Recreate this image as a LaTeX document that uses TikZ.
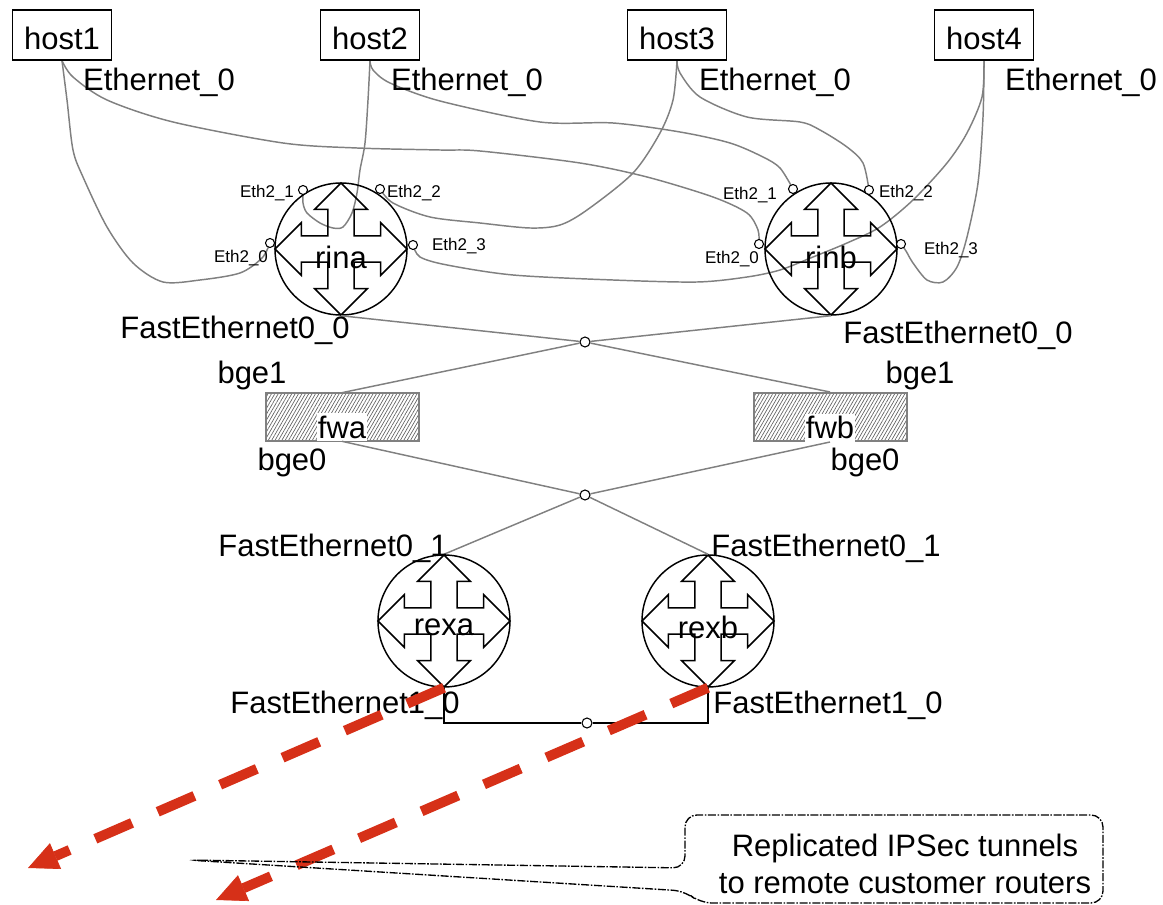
\documentclass[tikz,border=0pt]{standalone}
\usepackage{fontspec}
\setmainfont{Liberation Sans}
\usetikzlibrary{arrows.meta,patterns.meta,backgrounds}
\definecolor{wiregray}{RGB}{128,128,128}
\definecolor{tunnel}{RGB}{214,48,24}
\tikzset{
  bigtext/.style={font=\fontsize{23.25}{27.75}\selectfont, inner sep=0pt},
  smalltext/.style={font=\fontsize{12.75}{15}\selectfont, inner sep=0pt},
  hostbox/.style={draw, line width=1.1pt, minimum width=74.25pt, minimum height=37.5pt, inner sep=0pt, font=\fontsize{23.25}{27.75}\selectfont},
  routernode/.style={circle, draw, line width=1.1pt, minimum size=99pt, inner sep=0pt, font=\fontsize{23.25}{27.75}\selectfont},
  port/.style={circle, draw, fill=white, line width=0.8pt, minimum size=6.75pt, inner sep=0pt},
  hub/.style={circle, draw, fill=white, line width=0.8pt, minimum size=7.5pt, inner sep=0pt},
  wire/.style={draw=wiregray, line width=1.1pt},
  fwbox/.style={draw=wiregray, line width=1.5pt, minimum width=114.75pt, minimum height=36pt, inner sep=0pt,
    pattern={Lines[angle=60,distance=2.2pt,line width=0.5pt]}, pattern color=gray!75!black},
  fwlabel/.style={fill=white, minimum width=37.5pt, minimum height=21pt, inner sep=0pt, anchor=south, font=\fontsize{23.25}{27.75}\selectfont},
  tunnelarrow/.style={draw=tunnel, line width=7.5pt, dash pattern=on 30pt off 21pt,
    -{Triangle[length=22.5pt,width=21pt,line width=0.5pt]}},
  calloutline/.style={draw, line width=1pt, dash pattern=on 6pt off 1.2pt on 1.2pt off 1.2pt, rounded corners=9pt},
  crossarrows/.pic={
    \draw[line width=1.1pt] (0,-66) -- (26.4,-39.6) -- (13.2,-39.6) -- (13.2,-13.2) -- (39.6,-13.2) -- (39.6,-26.4)
      -- (66,0) -- (39.6,26.4) -- (39.6,13.2) -- (13.2,13.2) -- (13.2,39.6) -- (26.4,39.6)
      -- (0,66) -- (-26.4,39.6) -- (-13.2,39.6) -- (-13.2,13.2) -- (-39.6,13.2) -- (-39.6,26.4)
      -- (-66,0) -- (-39.6,-26.4) -- (-39.6,-13.2) -- (-13.2,-13.2) -- (-13.2,-39.6) -- (-26.4,-39.6) -- cycle;
  }
}
\begin{document}
\begin{tikzpicture}[x=0.75pt,y=-0.75pt]
\useasboundingbox (0,0) rectangle (1163,905);

% hosts
\node[hostbox] (h1) at (62,35) {\raisebox{-2.5pt}[\height][0pt]{host1}};
\node[hostbox] (h2) at (370,35) {\raisebox{-2.5pt}[\height][0pt]{host2}};
\node[hostbox] (h3) at (677,35) {\raisebox{-2.5pt}[\height][0pt]{host3}};
\node[hostbox] (h4) at (984,35) {\raisebox{-2.5pt}[\height][0pt]{host4}};
\node[bigtext] (e1) at (159,82) {Ethernet\_0};
\node[bigtext] (e2) at (467,82) {Ethernet\_0};
\node[bigtext] (e3) at (775,82) {Ethernet\_0};
\node[bigtext] (e4) at (1081,82) {Ethernet\_0};

% inner routers
\node[routernode] (rina) at (341,249) {\raisebox{-6.5pt}[\height][0pt]{rina}};
\pic at (rina) {crossarrows};
\node[routernode] (rinb) at (831,249) {\raisebox{-6.5pt}[\height][0pt]{rinb}};
\pic at (rinb) {crossarrows};

% ports
\node[port] (ra0) at (270,243) {};
\node[port] (ra1) at (303,190) {};
\node[port] (ra2) at (380,189) {};
\node[port] (ra3) at (413,245) {};
\node[port] (rb0) at (759,244) {};
\node[port] (rb1) at (793,189) {};
\node[port] (rb2) at (869,190) {};
\node[port] (rb3) at (901,244) {};
\node[smalltext] (la0) at (241,258) {Eth2\_0};
\node[smalltext] (la1) at (267,193) {Eth2\_1};
\node[smalltext] (la2) at (414,193) {Eth2\_2};
\node[smalltext] (la3) at (459,246) {Eth2\_3};
\node[smalltext] (lb0) at (732,259) {Eth2\_0};
\node[smalltext] (lb1) at (750,195) {Eth2\_1};
\node[smalltext] (lb2) at (906,193) {Eth2\_2};
\node[smalltext] (lb3) at (951,250) {Eth2\_3};

% host wires
\begin{scope}[on background layer]
\draw[wire] plot[smooth,tension=0.5] coordinates {(h1.south) (67,100) (73,150) (83,177) (107,227) (133,263) (163,282) (200,280) (240,273) (262,258) (ra0.center)};
\draw[wire] plot[smooth,tension=0.5] coordinates {(h1.south) (73,77) (107,100) (173,122) (283,143) (357,148) (440,150) (480,151) (580,163) (647,177) (713,197) (747,213) (758,230) (rb0.center)};
\draw[wire] plot[smooth,tension=0.5] coordinates {(h2.south) (368,100) (365,143) (360,170) (357,193) (352,213) (343,227) (333,228) (320,223) (307,213) (303,203) (ra1.center)};
\draw[wire] plot[smooth,tension=0.5] coordinates {(h2.south) (373,70) (390,83) (440,101) (540,122) (613,123) (680,132) (730,143) (763,157) (780,168) (rb1.center)};
\draw[wire] plot[smooth,tension=0.5] coordinates {(h3.south) (673,100) (660,133) (633,173) (587,210) (560,225) (530,228) (480,223) (430,217) (393,203) (ra2.center)};
\draw[wire] plot[smooth,tension=0.5] coordinates {(h3.south) (680,73) (700,97) (747,117) (800,122) (820,130) (847,147) (863,163) (rb2.center)};
\draw[wire] plot[smooth,tension=0.5] coordinates {(h4.south) (982,97) (967,133) (947,163) (913,200) (880,227) (847,243) (813,257) (780,270) (747,277) (697,282) (613,280) (513,275) (447,265) (420,257) (ra3.center)};
\draw[wire] plot[smooth,tension=0.5] coordinates {(h4.south) (983,117) (978,183) (967,237) (957,267) (943,282) (927,280) (913,263) (906,251) (rb3.center)};
\end{scope}

% upper hub and firewalls
\node[hub] (hub1) at (585,342) {};
\node[fwbox] (fwa) at (342,417) {};
\node[fwlabel] (fwat) at (fwa.south) {fwa};
\node[fwbox] (fwb) at (830,417) {};
\node[fwlabel] (fwbt) at (fwb.south) {fwb};
\node[hub] (hub2) at (585,495) {};

\draw[wire] (rina.south) -- (hub1);
\draw[wire] (rinb.south) -- (hub1);
\draw[wire] (hub1) -- (fwa.north);
\draw[wire] (hub1) -- (fwb.north);
\draw[wire] (fwa.south) -- (hub2);
\draw[wire] (fwb.south) -- (hub2);

\node[bigtext] (fa0) at (235,330) {FastEthernet0\_0};
\node[bigtext] (fb0) at (958,335) {FastEthernet0\_0};
\node[bigtext] (ga1) at (252,375) {bge1};
\node[bigtext] (gb1) at (920,375) {bge1};
\node[bigtext] (ga0) at (292,462) {bge0};
\node[bigtext] (gb0) at (865,462) {bge0};

% external routers
\node[routernode] (rexa) at (444,621) {\raisebox{-4.5pt}[\height][0pt]{rexa}};
\pic at (rexa) {crossarrows};
\node[routernode] (rexb) at (708,621) {\raisebox{-4.5pt}[\height][0pt]{rexb}};
\pic at (rexb) {crossarrows};
\draw[wire] (hub2) -- (rexa.north);
\draw[wire] (hub2) -- (rexb.north);
\node[bigtext] (xa1) at (333,548) {FastEthernet0\_1};
\node[bigtext] (xb1) at (826,548) {FastEthernet0\_1};
\node[bigtext] (xa0) at (345,705) {FastEthernet1\_0};
\node[bigtext] (xb0) at (828,705) {FastEthernet1\_0};

\node[hub] (hub3) at (587,723) {};
\draw[line width=1.1pt] (rexa.south) |- (hub3);
\draw[line width=1.1pt] (hub3) -| (rexb.south);

% tunnels
\coordinate (ta) at (28,868);
\coordinate (tb) at (216,900);
\draw[tunnelarrow] (rexa.south) -- (ta);
\draw[tunnelarrow] (rexb.south) -- (tb);

% callout
\coordinate (cp) at (188,860);
\node[bigtext, align=center] (callout) at (905,864) {Replicated IPSec tunnels\\to remote customer routers};
\draw[calloutline] (cp) -- (685,868) -- (685,815) -- (1103,815) -- (1103,903) -- (700,903) -- (685,891) -- cycle;
\end{tikzpicture}
\end{document}
